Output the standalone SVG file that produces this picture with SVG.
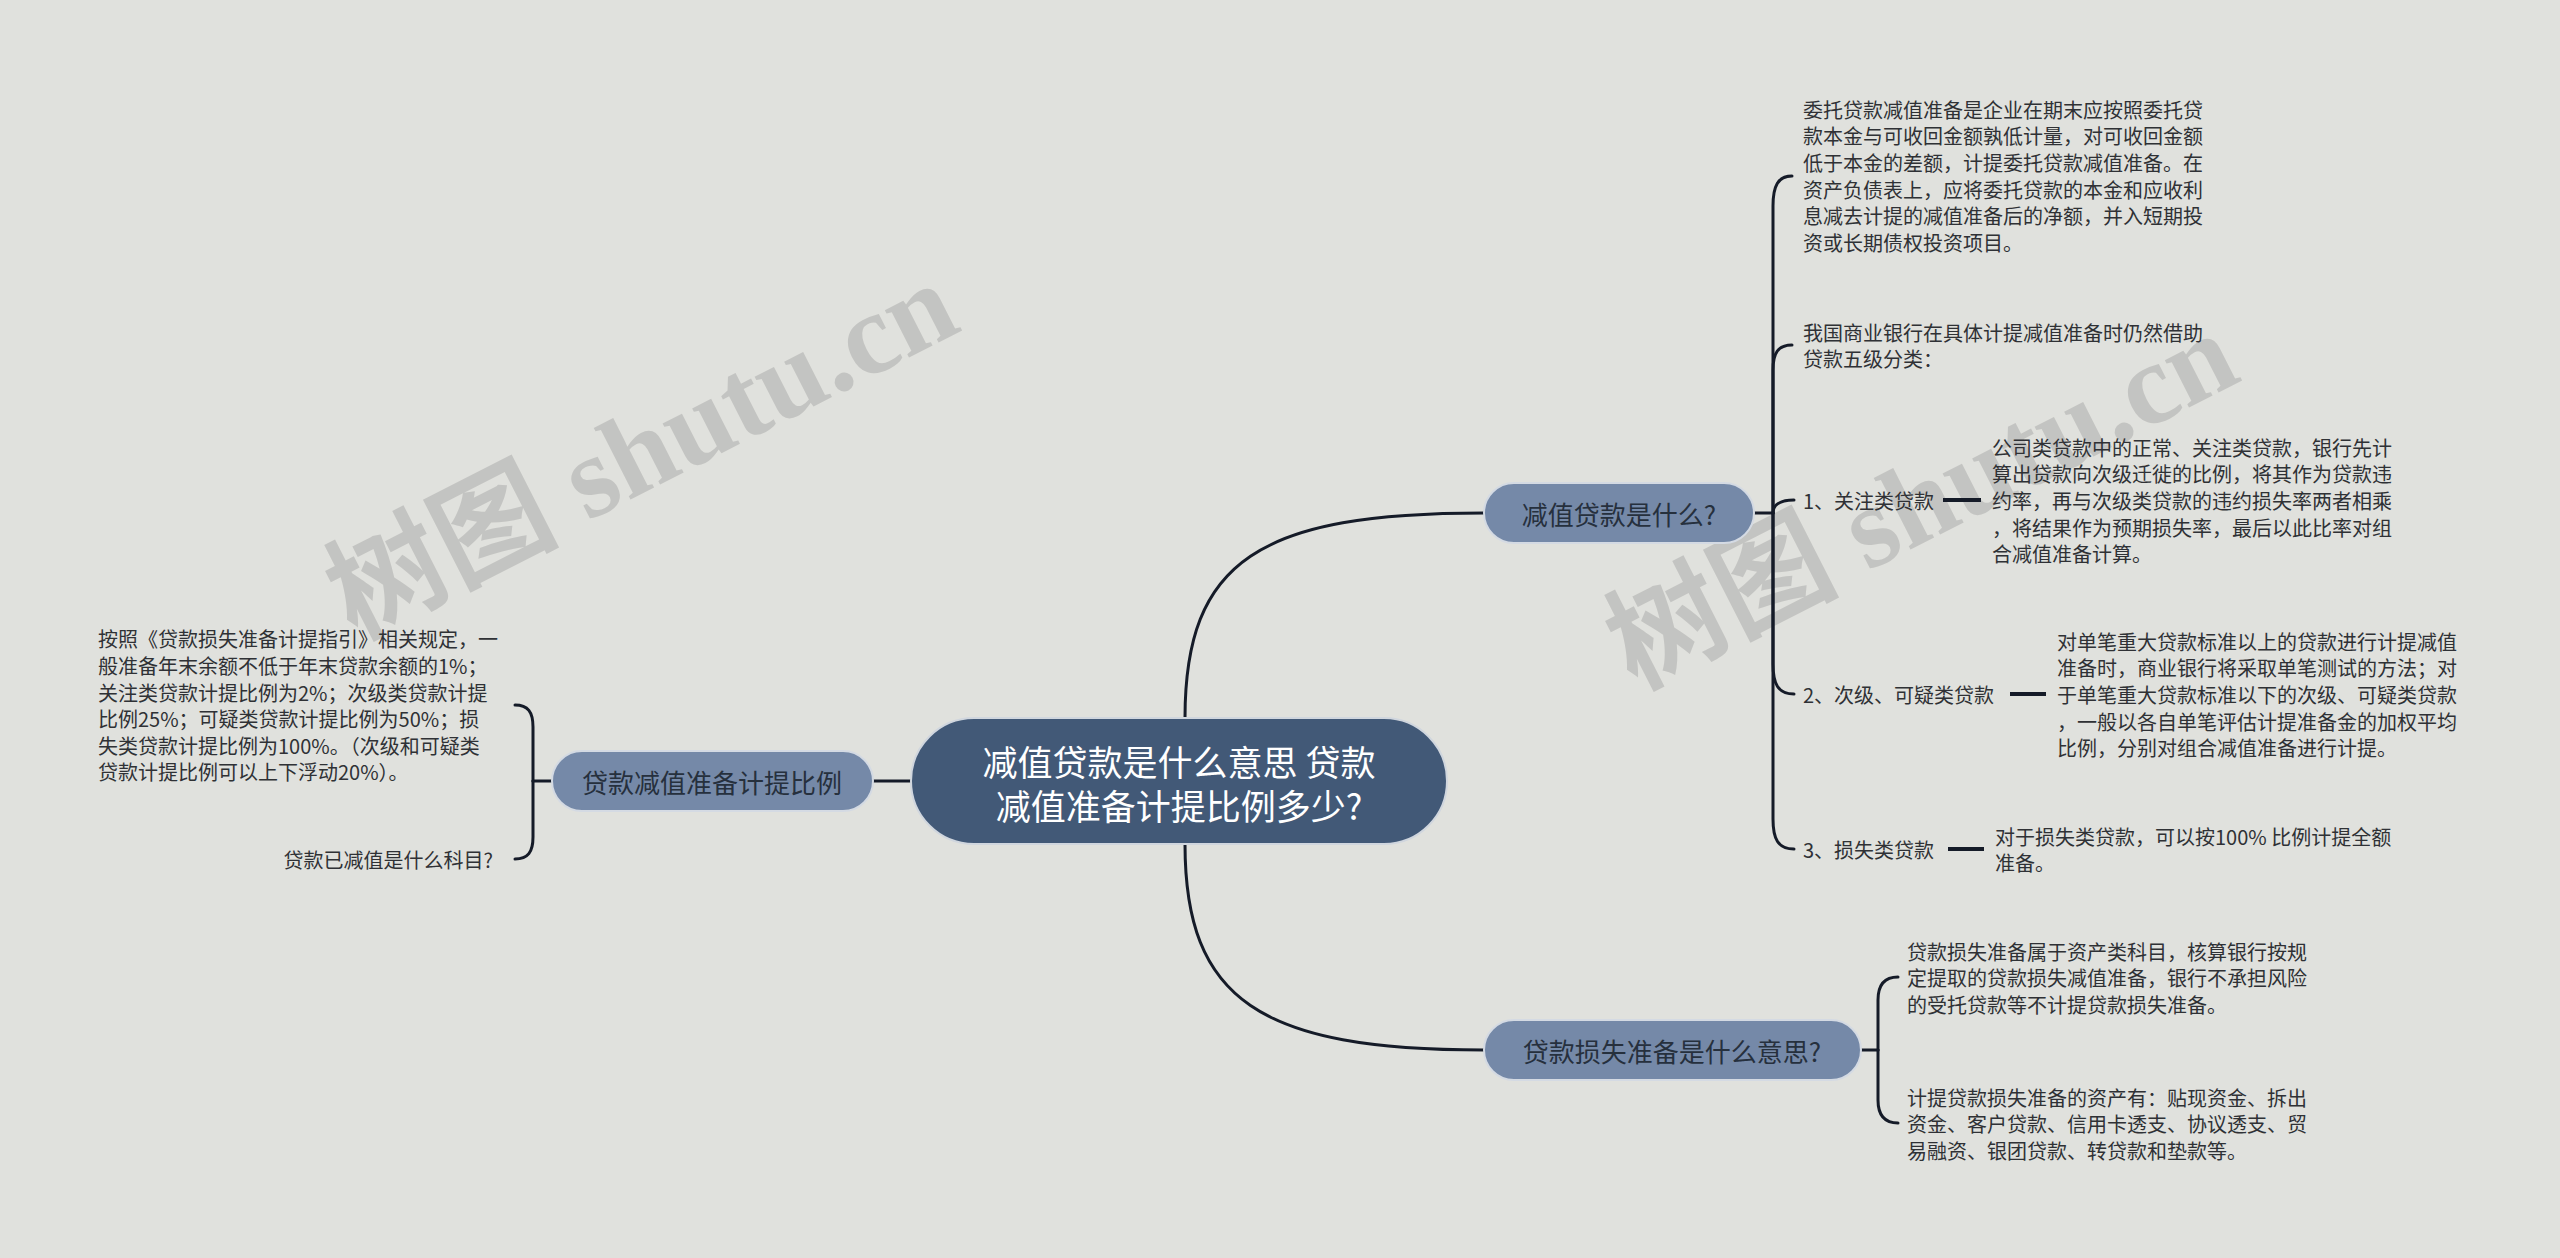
<svg xmlns="http://www.w3.org/2000/svg" width="2560" height="1258" viewBox="0 0 2560 1258">
<style>
.t{font-family:"Noto Sans CJK SC","Noto Sans",sans-serif;font-size:20px;fill:#2f3135;dominant-baseline:central}
.n{font-family:"Noto Sans CJK SC","Noto Sans",sans-serif;font-size:26px;fill:#26303d;text-anchor:middle;dominant-baseline:central}
.c{font-family:"Noto Sans CJK SC","Noto Sans",sans-serif;font-size:35px;fill:#ffffff;text-anchor:middle;dominant-baseline:central}
.sub{fill:#7589a8;stroke:#d4dae3;stroke-width:2}
.ln{fill:none;stroke:#151b28;stroke-width:3;stroke-linecap:round}
.sh{fill:none;stroke:#151b28;stroke-width:4}
.wm{font-family:"Liberation Serif","Noto Sans CJK SC",serif;font-size:116px;font-weight:bold;fill:#9a9a9a;opacity:0.4}
</style>
<rect width="2560" height="1258" fill="#e0e1dd"/>
<g id="watermarks">
<text class="wm" transform="translate(355,640) rotate(-27)">树图 shutu.cn</text>
<text class="wm" transform="translate(1635,690) rotate(-27)">树图 shutu.cn</text>
</g>
<g id="connectors">
<path class="ln" d="M1185 718 C1185 560 1260 513 1484 513"/>
<path class="ln" d="M1185 844 C1185 1000 1260 1050 1484 1050"/>
<path class="ln" d="M911 781 H873"/>
<path class="ln" d="M1754 513 H1773"/>
<path class="ln" d="M1773 513 V206 C1773 186 1778 176 1792 176"/>
<path class="ln" d="M1773 513 V370 C1773 353 1778 345 1792 345"/>
<path class="ln" d="M1773 513 C1773 505 1780 500 1794 500"/>
<path class="ln" d="M1773 513 V664 C1773 684 1778 694 1794 694"/>
<path class="ln" d="M1773 513 V819 C1773 839 1778 849 1794 849"/>
<path class="sh" d="M1943 500 H1981"/>
<path class="sh" d="M2010 694 H2046"/>
<path class="sh" d="M1948 849 H1984"/>
<path class="ln" d="M1861 1050 H1878"/>
<path class="ln" d="M1878 1050 V1000 C1878 985 1884 977 1898 977"/>
<path class="ln" d="M1878 1050 V1100 C1878 1115 1884 1123 1898 1123"/>
<path class="ln" d="M552 781 H533"/>
<path class="ln" d="M533 781 V727 C533 712 528 705 515 705"/>
<path class="ln" d="M533 781 V837 C533 852 528 859 515 859"/>
</g>
<g id="central">
<rect x="911" y="718" width="536" height="126" rx="63" fill="#425977" stroke="#d0d6de" stroke-width="2"/>
<text class="c" x="1179" y="760">减值贷款是什么意思 贷款</text>
<text class="c" x="1179" y="804">减值准备计提比例多少?</text>
</g>
<g id="node-what">
<rect class="sub" x="1484" y="483" width="270" height="60" rx="30"/>
<text class="n" x="1619" y="513">减值贷款是什么?</text>
</g>
<g id="node-loss">
<rect class="sub" x="1484" y="1020" width="377" height="60" rx="30"/>
<text class="n" x="1672" y="1050">贷款损失准备是什么意思?</text>
</g>
<g id="node-ratio">
<rect class="sub" x="552" y="751" width="321" height="60" rx="30"/>
<text class="n" x="712" y="781">贷款减值准备计提比例</text>
</g>
<g id="text-def">
<text class="t" x="1803" y="109">委托贷款减值准备是企业在期末应按照委托贷</text>
<text class="t" x="1803" y="135">款本金与可收回金额孰低计量，对可收回金额</text>
<text class="t" x="1803" y="162">低于本金的差额，计提委托贷款减值准备。在</text>
<text class="t" x="1803" y="189">资产负债表上，应将委托贷款的本金和应收利</text>
<text class="t" x="1803" y="215">息减去计提的减值准备后的净额，并入短期投</text>
<text class="t" x="1803" y="242">资或长期债权投资项目。</text>
</g>
<g id="text-five">
<text class="t" x="1803" y="332">我国商业银行在具体计提减值准备时仍然借助</text>
<text class="t" x="1803" y="358">贷款五级分类：</text>
</g>
<g id="item-1">
<text class="t" x="1803" y="500">1、关注类贷款</text>
</g>
<g id="desc-1">
<text class="t" x="1992" y="447">公司类贷款中的正常、关注类贷款，银行先计</text>
<text class="t" x="1992" y="473">算出贷款向次级迁徙的比例，将其作为贷款违</text>
<text class="t" x="1992" y="500">约率，再与次级类贷款的违约损失率两者相乘</text>
<text class="t" x="1992" y="527">，将结果作为预期损失率，最后以此比率对组</text>
<text class="t" x="1992" y="553">合减值准备计算。</text>
</g>
<g id="item-2">
<text class="t" x="1803" y="694">2、次级、可疑类贷款</text>
</g>
<g id="desc-2">
<text class="t" x="2057" y="641">对单笔重大贷款标准以上的贷款进行计提减值</text>
<text class="t" x="2057" y="667">准备时，商业银行将采取单笔测试的方法；对</text>
<text class="t" x="2057" y="694">于单笔重大贷款标准以下的次级、可疑类贷款</text>
<text class="t" x="2057" y="721">，一般以各自单笔评估计提准备金的加权平均</text>
<text class="t" x="2057" y="747">比例，分别对组合减值准备进行计提。</text>
</g>
<g id="item-3">
<text class="t" x="1803" y="849">3、损失类贷款</text>
</g>
<g id="desc-3">
<text class="t" x="1995" y="836">对于损失类贷款，可以按100% 比例计提全额</text>
<text class="t" x="1995" y="862">准备。</text>
</g>
<g id="text-loss-a">
<text class="t" x="1907" y="951">贷款损失准备属于资产类科目，核算银行按规</text>
<text class="t" x="1907" y="977">定提取的贷款损失减值准备，银行不承担风险</text>
<text class="t" x="1907" y="1004">的受托贷款等不计提贷款损失准备。</text>
</g>
<g id="text-loss-b">
<text class="t" x="1907" y="1097">计提贷款损失准备的资产有：贴现资金、拆出</text>
<text class="t" x="1907" y="1123">资金、客户贷款、信用卡透支、协议透支、贸</text>
<text class="t" x="1907" y="1150">易融资、银团贷款、转贷款和垫款等。</text>
</g>
<g id="text-ratio">
<text class="t" x="98" y="638">按照《贷款损失准备计提指引》相关规定，一</text>
<text class="t" x="98" y="665">般准备年末余额不低于年末贷款余额的1%；</text>
<text class="t" x="98" y="692">关注类贷款计提比例为2%；次级类贷款计提</text>
<text class="t" x="98" y="718">比例25%；可疑类贷款计提比例为50%；损</text>
<text class="t" x="98" y="745">失类贷款计提比例为100%。（次级和可疑类</text>
<text class="t" x="98" y="771">贷款计提比例可以上下浮动20%）。</text>
</g>
<g id="text-subject">
<text class="t" x="493" y="859" text-anchor="end">贷款已减值是什么科目?</text>
</g>
</svg>
